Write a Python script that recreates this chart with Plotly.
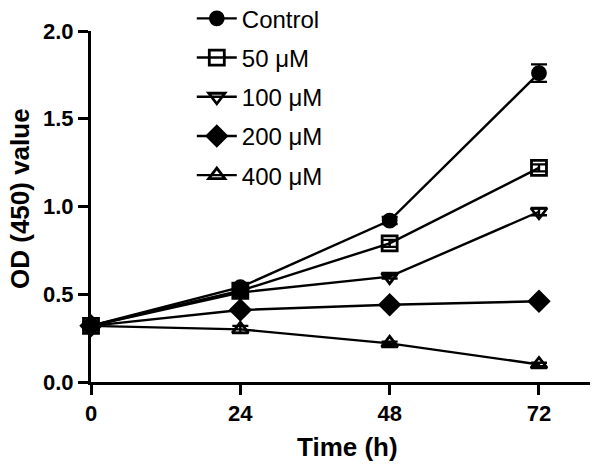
import plotly.graph_objects as go

time_h = [0, 24, 48, 72]
series_names = ["Control", "50 μM", "100 μM", "200 μM", "400 μM"]
control = [0.32, 0.54, 0.92, 1.76]
um50 = [0.32, 0.52, 0.79, 1.22]
um100 = [0.32, 0.51, 0.60, 0.97]
um200 = [0.32, 0.41, 0.44, 0.46]
um400 = [0.32, 0.30, 0.22, 0.10]
err_control = [0.01, 0.02, 0.02, 0.05]
err_50 = [0.01, 0.02, 0.02, 0.02]
err_100 = [0.01, 0.02, 0.01, 0.02]
err_200 = [0.01, 0.01, 0.01, 0.01]
err_400 = [0.01, 0.02, 0.01, 0.01]

values = [control, um50, um100, um200, um400]
errors = [err_control, err_50, err_100, err_200, err_400]
symbols = ["circle", "square-open", "triangle-down-open", "diamond", "triangle-up-open"]
sizes = [13, 15, 14, 15, 14]

fig = go.Figure()
for i, (name, vals, errs, sym, sz) in enumerate(zip(series_names, values, errors, symbols, sizes)):
    fig.add_trace(go.Scatter(
        x=time_h, y=vals, name=name, mode="lines+markers",
        legendgroup=str(i),
        line=dict(color="black", width=2.4),
        marker=dict(symbol=sym, size=sz, color="black", line=dict(color="black", width=2.8)),
        error_y=dict(type="data", array=errs, color="black", thickness=2.4, width=8),
        cliponaxis=False,
    ))

font_family = "Liberation Sans, Arial, sans-serif"
fig.update_layout(
    width=600, height=471,
    margin=dict(l=91, r=10, t=31, b=89, autoexpand=False),
    plot_bgcolor="white", paper_bgcolor="white",
    font=dict(family=font_family, color="black"),
    showlegend=True,
    legend=dict(x=0.202, y=1.099, xanchor="left", yanchor="top",
                font=dict(size=24, family=font_family, color="black"),
                tracegroupgap=5, itemwidth=40, bgcolor="rgba(0,0,0,0)"),
    xaxis=dict(range=[0, 80.2], tickvals=[0, 24, 48, 72], ticktext=["0", "24", "48", "72"],
               showline=True, linecolor="black", linewidth=3, ticks="outside",
               ticklen=10, tickwidth=3, tickcolor="black", showgrid=False, zeroline=False,
               automargin=False,
               tickfont=dict(size=22, family=font_family, weight="bold")),
    yaxis=dict(range=[0, 2.0], tickvals=[0, 0.5, 1.0, 1.5, 2.0],
               ticktext=["0.0", "0.5", "1.0", "1.5", "2.0"],
               showline=True, linecolor="black", linewidth=3, ticks="outside",
               ticklen=10, tickwidth=3, tickcolor="black", showgrid=False, zeroline=False,
               automargin=False,
               tickfont=dict(size=22, family=font_family, weight="bold")),
    annotations=[
        dict(text="<b>Time (h)</b>", xref="paper", yref="paper",
             x=(347 - 91) / 499, y=-(447 - 382) / 351, xanchor="center", yanchor="middle",
             showarrow=False, font=dict(size=26, family=font_family, color="black")),
        dict(text="<b>OD (450) value</b>", xref="paper", yref="paper",
             x=-(91 - 20) / 499, y=(382 - 199) / 351, xanchor="center", yanchor="middle",
             textangle=-90, showarrow=False, font=dict(size=26, family=font_family, color="black")),
    ],
)

fig.write_html("out.html", config={"displayModeBar": False},
               post_script="document.body.style.margin='0';document.body.style.overflow='hidden';")
